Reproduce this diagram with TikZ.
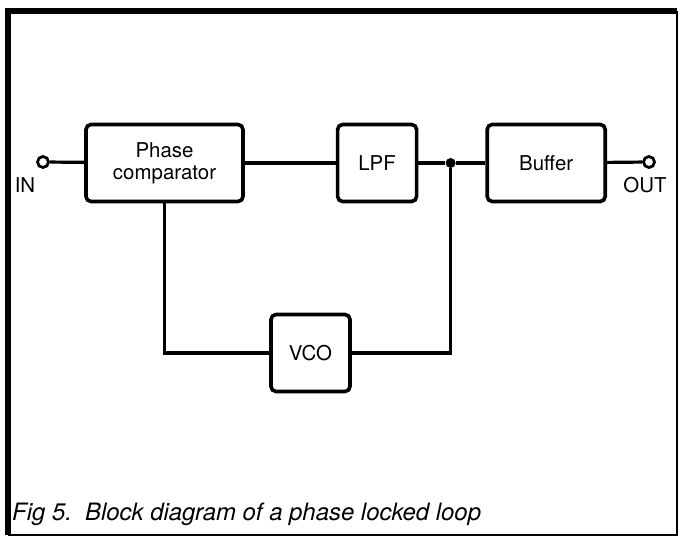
\documentclass[tikz,border=0pt]{standalone}
\usepackage{fontspec}
\setmainfont{TeX Gyre Heros}
\usetikzlibrary{positioning}

\begin{document}
\begin{tikzpicture}[
  x=1bp,y=-1bp,
  blk/.style={draw,line width=3.6bp,rounded corners=5bp,align=center,
              minimum height=77bp,inner sep=0pt,
              font=\fontsize{20.5}{22}\selectfont},
  wire/.style={line width=3.2bp},
  term/.style={circle,draw,line width=2.8bp,minimum size=11bp,inner sep=0pt,fill=white},
  dot/.style={circle,fill,minimum size=10bp,inner sep=0pt},
  lbl/.style={font=\fontsize{20.5}{22}\selectfont,inner sep=0pt}
]
  \useasboundingbox (0,0) rectangle (679,541);
  % frame
  \draw[line width=6bp] (8,535) -- (8,11) -- (677,11);
  \draw[line width=1.6bp] (677,11) -- (677,535) -- (8,535);
  % blocks
  \node[blk,minimum width=157bp] (phase) at (164.5,163) {Phase\\comparator};
  \node[blk,minimum width=79bp,right=91bp of phase] (lpf) {LPF};
  \node[blk,minimum width=118bp,right=67bp of lpf] (buffer) {Buffer};
  \node[blk,minimum width=79bp] (vco) at (310.5,353) {VCO};
  \node[dot,right=27bp of lpf] (jn) {};
  \node[term] (in) at (43,162) {};
  \node[term] (out) at (649,162) {};
  \node[lbl] (inlbl) at (25,185) {IN};
  \node[lbl] (outlbl) at (645,185) {OUT};
  % connections
  \draw[wire] (in) -- (phase);
  \draw[wire] (phase) -- (lpf);
  \draw[wire] (lpf) -- (jn) -- (buffer);
  \draw[wire] (buffer) -- (out);
  \draw[wire] (phase.south) |- (vco.west);
  \draw[wire] (vco.east) -| (jn);
  \node[anchor=base west,inner sep=0pt,font=\itshape\fontsize{24}{26}\selectfont] (caption)
    at (12,520) {Fig 5.\hspace{0.55em}Block diagram of a phase locked loop};
\end{tikzpicture}
\end{document}
